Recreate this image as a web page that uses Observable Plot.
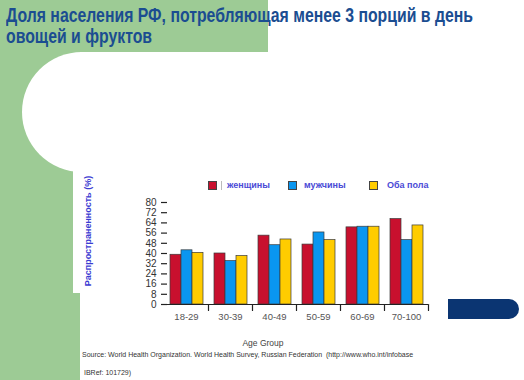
<!DOCTYPE html>
<html>
<head>
<meta charset="utf-8">
<script src="https://cdn.jsdelivr.net/npm/d3@7"></script>
<script src="https://cdn.jsdelivr.net/npm/@observablehq/plot@0.6"></script>
<style>
  html, body { margin: 0; padding: 0; }
  body { width: 524px; height: 380px; overflow: hidden; position: relative; background: #fff; font-family: "Liberation Sans", Arial, sans-serif; }
  .abs { position: absolute; }
  #title { left: 6px; top: 5px; font-family: "Liberation Sans", Arial, sans-serif; font-weight: bold; font-size: 20px; line-height: 21px; color: #1b4d91; white-space: nowrap; z-index: 3; }
  #title span { display: inline-block; transform-origin: 0 50%; }
  #chart { left: 0; top: 0; z-index: 2; }
  .leg { top: 181px; font-size: 9px; font-weight: bold; color: #4a4ad6; z-index: 3; line-height: 9px; }
  .sw { width: 7px; height: 7px; border: 0.8px solid #444; top: 181px; z-index: 3; }
  #ytitle { left: 88px; top: 231px; transform: translate(-50%, -50%) rotate(-90deg); font-size: 9px; font-weight: bold; color: #3c3cd2; white-space: nowrap; z-index: 3; }
  #xtitle { left: 263px; top: 338px; transform: translateX(-50%); font-size: 8.5px; color: #444; z-index: 3; }
  #source { left: 82px; top: 351px; font-size: 7px; color: #333; white-space: nowrap; z-index: 3; }
  #ibref { left: 84px; top: 369px; font-size: 7px; color: #333; z-index: 3; }
</style>
</head>
<body>
<div class="abs" style="left:0;top:0;width:268px;height:52px;background:#9dcb95;"></div>
<div class="abs" style="left:0;top:0;width:80px;height:380px;background:#9dcb95;"></div>
<div class="abs" style="left:22px;top:52px;width:320px;height:120px;background:#fff;border-radius:60px 0 0 60px;"></div>
<div class="abs" style="left:73px;top:170px;width:20px;height:123px;background:#fff;"></div>
<div class="abs" style="left:448px;top:299px;width:71px;height:20px;background:#0b3572;border-radius:0 10px 10px 0;"></div>

<div id="title" class="abs"><span id="t1">Доля населения РФ, потребляющая менее 3 порций в день</span><br><span id="t2">овощей и фруктов</span></div>
<div id="ytitle" class="abs">Распространенность (%)</div>
<div id="xtitle" class="abs">Age Group</div>
<div id="source" class="abs">Source: World Health Organization. World Health Survey, Russian Federation&nbsp; (http://www.who.int/infobase</div>
<div id="ibref" class="abs">IBRef: 101729)</div>
<div id="legend"></div>
<div id="chart" class="abs"></div>

<script>
const ages = ["18-29", "30-39", "40-49", "50-59", "60-69", "70-100"];
const seriesNames = ["женщины", "мужчины", "Оба пола"];
const seriesColors = ["#c8102e", "#0a96f0", "#ffcc00"];
const women = [39, 40, 54, 47, 60.5, 67];
const men = [42.5, 34, 46.5, 56.5, 61, 50.5];
const both = [40.5, 38, 51, 50.5, 61, 62];
const yTicks = [0, 8, 16, 24, 32, 40, 48, 56, 64, 72, 80];

const seriesValues = [women, men, both];
const rows = [];
ages.forEach((age, i) => {
  seriesNames.forEach((s, j) => rows.push({age, series: s, value: seriesValues[j][i]}));
});

// condense the title (narrow font not installed)
const t1 = document.getElementById("t1"), t2 = document.getElementById("t2");
const k = 467 / t1.getBoundingClientRect().width;
t1.style.transform = `scaleX(${k})`;
t2.style.transform = `scaleX(${k})`;

const tickShape = {draw(ctx, l) { ctx.moveTo(0, l / 2); ctx.lineTo(0, -l / 2); }};

const chart = Plot.plot({
  width: 524,
  height: 380,
  marginLeft: 163,
  marginRight: 96,
  marginTop: 202,
  marginBottom: 76,
  style: {background: "transparent", fontFamily: "Liberation Sans, Arial, sans-serif", overflow: "visible"},
  fx: {domain: ages, padding: 0, label: null},
  x: {domain: seriesNames, paddingInner: 0, paddingOuter: 0.34, axis: null},
  y: {domain: [0, 80], label: null},
  color: {domain: seriesNames, range: seriesColors},
  marks: [
    Plot.barY(rows, {fx: "age", x: "series", y: "value", fill: "series", stroke: "#3a3a3a", strokeWidth: 0.7}),
    Plot.ruleY([0], {stroke: "#222", strokeWidth: 1.2}),
    Plot.vector([0], {frameAnchor: "bottom-right", length: 6, rotate: 0, anchor: "middle", stroke: "#222", strokeWidth: 1.2, shape: tickShape}),
    Plot.axisY({ticks: yTicks, tickSize: 6, dx: 3, tickFormat: () => "", label: null, stroke: "#222", strokeWidth: 1.2}),
    Plot.axisY({ticks: yTicks, tickSize: 0, tickPadding: 8, label: null, line: true, stroke: "#222", strokeWidth: 1.2, fill: "#333", fontSize: 10}),
    Plot.axisFx({anchor: "bottom", tickSize: 0, tickPadding: 9, label: null, fill: "#555", fontSize: 9.5})
  ]
});
document.getElementById("chart").appendChild(chart);

// legend
const legend = document.getElementById("legend");
const legX = [208, 288, 369];
const legTextX = [227, 304, 387];
seriesNames.forEach((s, i) => {
  const sw = document.createElement("div");
  sw.className = "abs sw";
  sw.style.left = legX[i] + "px";
  sw.style.background = seriesColors[i];
  legend.appendChild(sw);
  const t = document.createElement("div");
  t.className = "abs leg";
  t.style.left = legTextX[i] + "px";
  t.textContent = s;
  legend.appendChild(t);
});
const sep = document.createElement("div");
sep.className = "abs";
sep.style.cssText = "left:221px;top:181px;width:1px;height:9px;background:#bbb;z-index:3;";
legend.appendChild(sep);
</script>
</body>
</html>
